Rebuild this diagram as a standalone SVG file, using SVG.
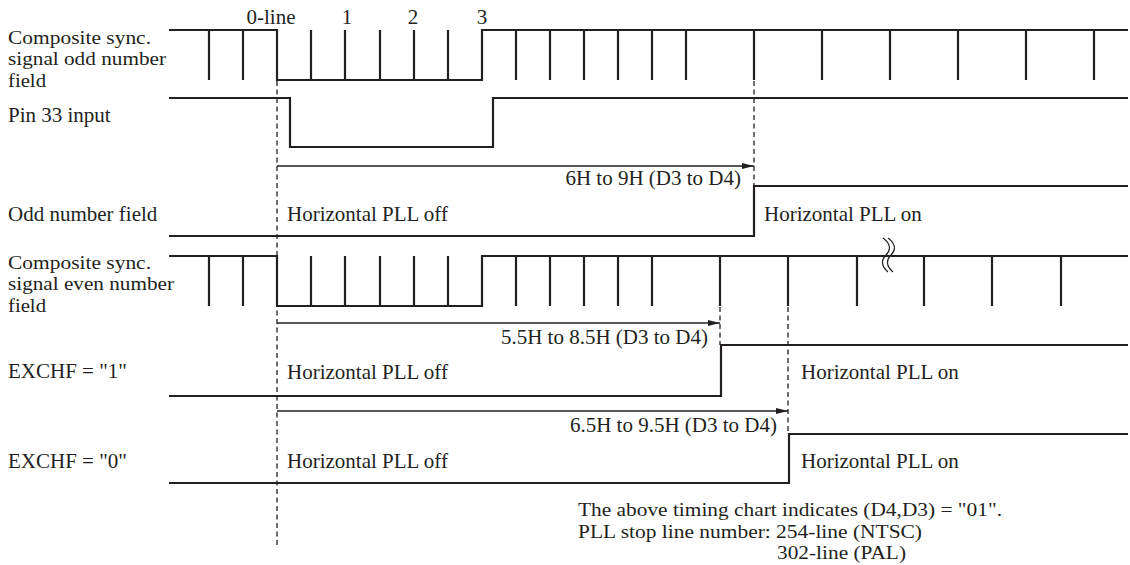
<svg xmlns="http://www.w3.org/2000/svg" width="1130" height="565" viewBox="0 0 1130 565">
<style>
text{font-family:"Liberation Serif","Times New Roman",serif;font-size:21px;fill:#231f20}
.stack{font-size:19.5px}
.sig{fill:none;stroke:#231f20;stroke-width:2.2;stroke-linejoin:miter;stroke-linecap:butt}
.dash{fill:none;stroke:#231f20;stroke-width:1.3;stroke-dasharray:5,3.5}
.arr{fill:none;stroke:#231f20;stroke-width:1.3}
.brk{fill:none;stroke:#231f20;stroke-width:1.2}
.r{text-anchor:end}
.m{text-anchor:middle}
</style>
<defs>
<marker id="ah" viewBox="0 0 12 6" refX="12" refY="3" markerWidth="12" markerHeight="6" markerUnits="userSpaceOnUse" orient="auto">
<path d="M0,0 L12,3 L0,6 Z" fill="#231f20"/>
</marker>
</defs>
<rect width="1130" height="565" fill="#fff"/>

<g id="line-numbers">
<text class="m" x="271" y="24">0-line</text>
<text class="m" x="347" y="24">1</text>
<text class="m" x="413" y="24">2</text>
<text class="m" x="482" y="24">3</text>
</g>

<g id="sync-odd">
<text class="stack" x="8" y="43.5"><tspan x="8" y="43.5" textLength="143" lengthAdjust="spacingAndGlyphs">Composite sync.</tspan><tspan x="8" y="65.1" textLength="158" lengthAdjust="spacingAndGlyphs">signal odd number</tspan><tspan x="8" y="86.7" textLength="38" lengthAdjust="spacingAndGlyphs">field</tspan></text>
<path class="sig" d="M169,30 H277 V80 H482 V30 H1128"/>
<path class="sig" d="M209,30 V80 M243,30 V80 M311,80 V30 M345,80 V30 M380,80 V30 M414,80 V30 M448,80 V30 M516,30 V80 M550,30 V80 M584,30 V80 M618,30 V80 M652,30 V80 M686,30 V80 M754,30 V80 M822,30 V80 M890,30 V80 M958,30 V80 M1026,30 V80 M1094,30 V80"/>
</g>

<g id="pin33">
<text x="8" y="122">Pin 33 input</text>
<path class="sig" d="M169,98 H290 V147 H493 V98 H1128"/>
</g>

<g id="odd-field">
<text x="8" y="221">Odd number field</text>
<text x="287" y="221">Horizontal PLL off</text>
<text x="764" y="221">Horizontal PLL on</text>
<path class="sig" d="M169,236 H754 V186 H1128"/>
</g>

<g id="sync-even">
<text class="stack" x="8" y="268.5"><tspan x="8" y="268.5" textLength="143" lengthAdjust="spacingAndGlyphs">Composite sync.</tspan><tspan x="8" y="290.1" textLength="166" lengthAdjust="spacingAndGlyphs">signal even number</tspan><tspan x="8" y="311.7" textLength="38" lengthAdjust="spacingAndGlyphs">field</tspan></text>
<path class="sig" d="M169,256 H277 V306 H482 V256 H1128"/>
<path class="sig" d="M209,256 V306 M243,256 V306 M311,306 V256 M345,306 V256 M380,306 V256 M414,306 V256 M448,306 V256 M516,256 V306 M550,256 V306 M584,256 V306 M618,256 V306 M652,256 V306 M720,256 V306 M788,256 V306 M857,256 V306 M924,256 V306 M992,256 V306 M1061,256 V306"/>
<path class="brk" d="M883,238 C891,244 891,250 886,255 C881,260 881,266 888,272"/>
<path class="brk" d="M888,238 C896,244 896,250 891,255 C886,260 886,266 893,272"/>
</g>

<g id="exchf1">
<text x="8" y="378">EXCHF = "1"</text>
<text x="287" y="379">Horizontal PLL off</text>
<text x="801" y="379">Horizontal PLL on</text>
<path class="sig" d="M169,396 H721 V345 H1128"/>
</g>

<g id="exchf0">
<text x="8" y="468">EXCHF = "0"</text>
<text x="287" y="468">Horizontal PLL off</text>
<text x="801" y="468">Horizontal PLL on</text>
<path class="sig" d="M169,483 H789 V434 H1128"/>
</g>

<g id="connectors">
<line class="dash" x1="277" y1="81" x2="277" y2="546"/>
<line class="dash" x1="754" y1="81" x2="754" y2="186"/>
<line class="dash" x1="720" y1="307" x2="720" y2="345"/>
<line class="dash" x1="788" y1="307" x2="788" y2="434"/>
<line class="arr" x1="277" y1="166" x2="754" y2="166" marker-end="url(#ah)"/>
<line class="arr" x1="277" y1="323" x2="720" y2="323" marker-end="url(#ah)"/>
<line class="arr" x1="277" y1="411" x2="788" y2="411" marker-end="url(#ah)"/>
<text class="r" x="741" y="185">6H to 9H (D3 to D4)</text>
<text class="r" x="708" y="344">5.5H to 8.5H (D3 to D4)</text>
<text class="r" x="777" y="432">6.5H to 9.5H (D3 to D4)</text>
</g>

<g id="note">
<text class="stack" x="578" y="516"><tspan x="578" y="516" textLength="424" lengthAdjust="spacingAndGlyphs">The above timing chart indicates (D4,D3) = "01".</tspan><tspan x="578" y="537.6" textLength="344" lengthAdjust="spacingAndGlyphs">PLL stop line number: 254-line (NTSC)</tspan><tspan x="777" y="559.2" textLength="129" lengthAdjust="spacingAndGlyphs">302-line (PAL)</tspan></text>
</g>
</svg>
